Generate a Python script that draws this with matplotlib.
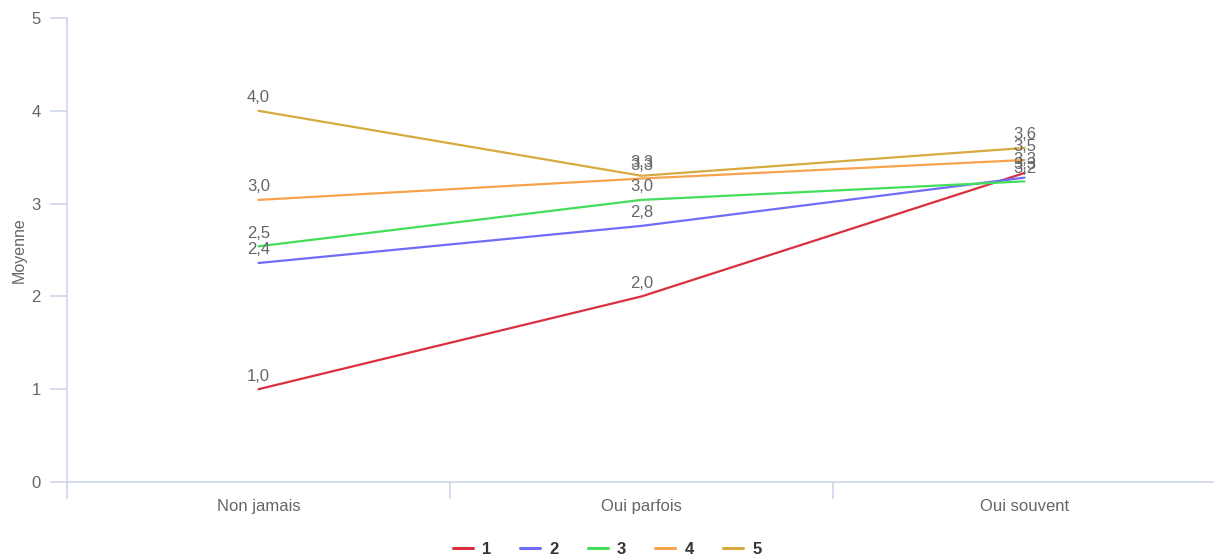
import matplotlib
matplotlib.use("Agg")
import matplotlib.pyplot as plt

plt.rcParams["font.family"] = ["Liberation Sans", "DejaVu Sans"]

categories = ["Non jamais", "Oui parfois", "Oui souvent"]
series_names = ["1", "2", "3", "4", "5"]
series_values = {
    "1": [1.00, 2.00, 3.33],
    "2": [2.36, 2.76, 3.28],
    "3": [2.54, 3.04, 3.24],
    "4": [3.04, 3.27, 3.47],
    "5": [4.00, 3.30, 3.60],
}
series_colors = {
    "1": "#d9303f",
    "2": "#6f6cf8",
    "3": "#43df5c",
    "4": "#f7a24c",
    "5": "#d6aa3e",
}
y_ticks = [0, 1, 2, 3, 4, 5]

axis_color = "#ccd6eb"
label_color = "#666666"

fig = plt.figure(figsize=(12.14, 5.58), dpi=100)
ax = fig.add_axes([0.0552, 0.1362, 0.9465, 0.8315])

x = list(range(len(categories)))
for name in series_names:
    vals = series_values[name]
    ax.plot(x, vals, color=series_colors[name], lw=1.6, label=name,
            solid_capstyle="round", zorder=3)
    for xi, v in zip(x, vals):
        ax.annotate(f"{v:.1f}".replace(".", ","), (xi, v),
                    xytext=(0, 4), textcoords="offset points",
                    ha="center", va="bottom", fontsize=12,
                    color=label_color, zorder=4)

ax.set_xlim(-0.5, len(categories) - 0.5)
ax.set_ylim(0, 5)
ax.set_yticks(y_ticks)
ax.set_yticklabels([str(t) for t in y_ticks])
ax.set_xticks(x)
ax.set_xticklabels(categories)
ax.set_xticks([-0.5, 0.5, 1.5, 2.5], minor=True)

ax.tick_params(axis="x", which="major", length=0, pad=12,
               labelsize=12, labelcolor=label_color)
ax.tick_params(axis="x", which="minor", length=12, width=1.2,
               color=axis_color)
ax.tick_params(axis="y", length=12, width=1.2, color=axis_color,
               labelsize=12, labelcolor=label_color, pad=7)

for side in ["top", "right"]:
    ax.spines[side].set_visible(False)
for side in ["left", "bottom"]:
    ax.spines[side].set_color(axis_color)
    ax.spines[side].set_linewidth(1.2)

ax.set_ylabel("Moyenne", fontsize=11.5, color="#666666", labelpad=3)

leg = fig.legend(loc="lower center", bbox_to_anchor=(0.5, -0.025),
                 ncol=5, frameon=False, handlelength=1.2,
                 columnspacing=1.75, handletextpad=0.55,
                 prop={"weight": "bold", "size": 12})
for t in leg.get_texts():
    t.set_color("#333333")
for h in leg.legend_handles:
    h.set_linewidth(2.2)

fig.savefig("out.png", dpi=100)
